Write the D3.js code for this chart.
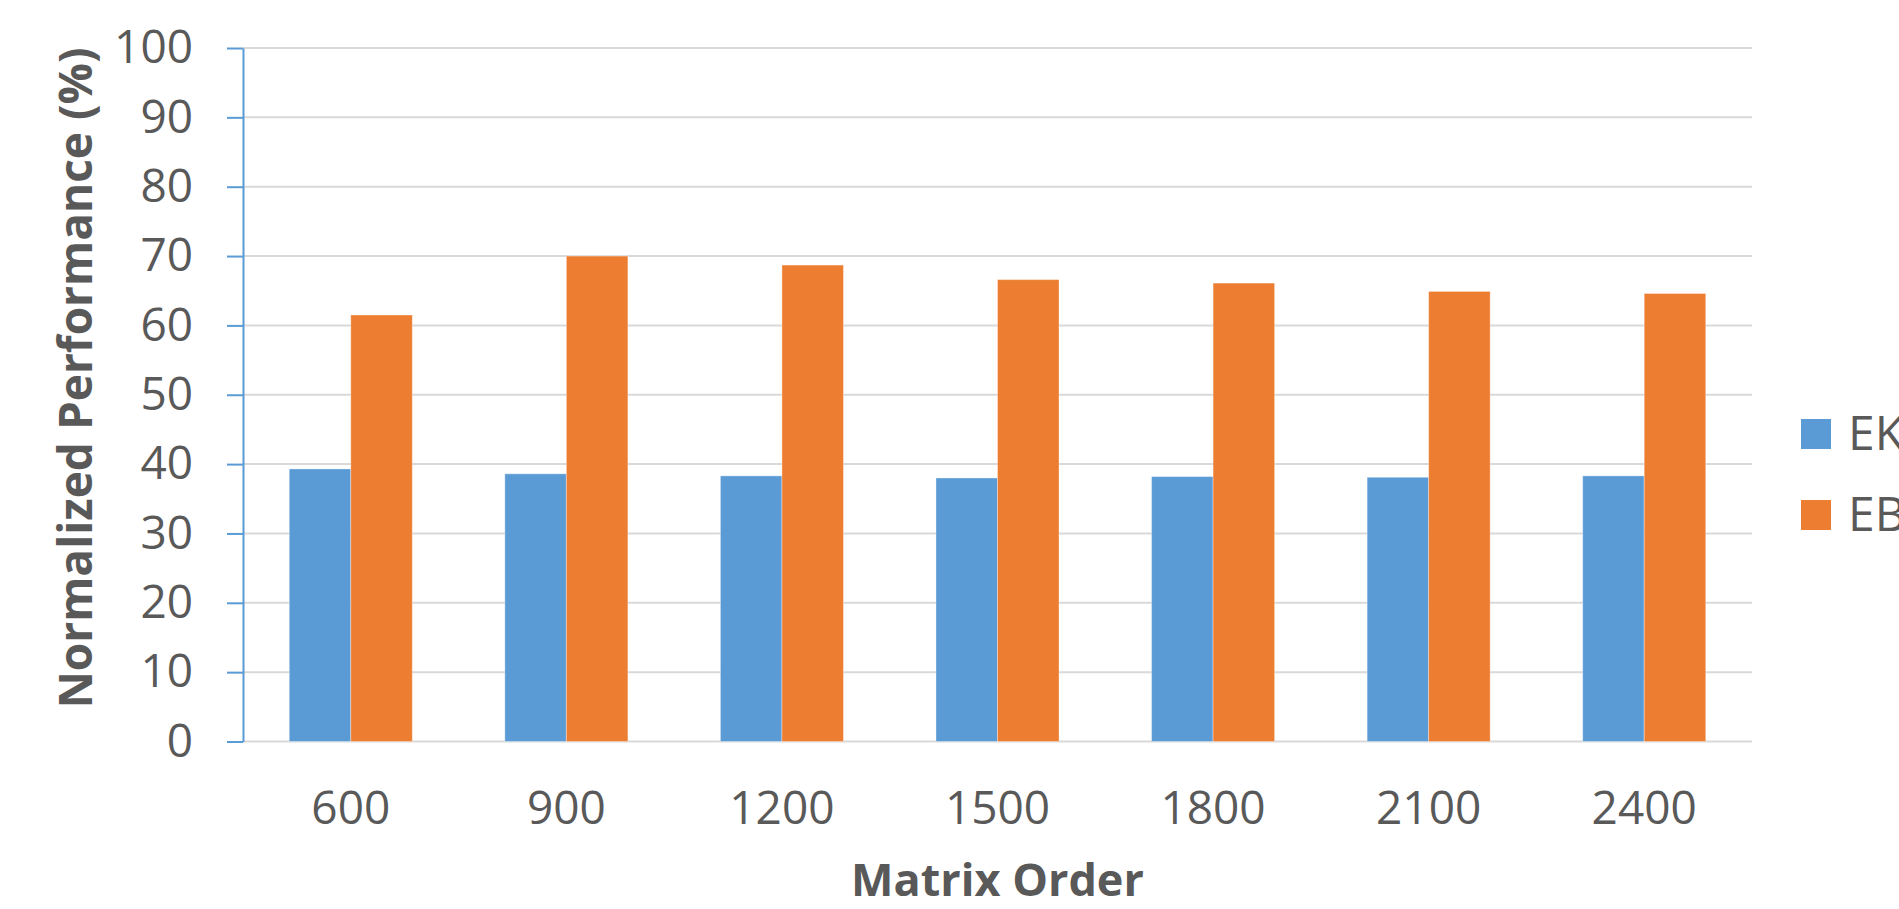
<!DOCTYPE html>
<html>
<head>
<meta charset="utf-8">
<script src="https://cdn.jsdelivr.net/npm/d3@7"></script>
<style>
  html, body { margin: 0; padding: 0; background: #fff; }
  svg { display: block; }
  text { font-family: "Open Sans", "Segoe UI", sans-serif; fill: #595959; }
</style>
</head>
<body>
<svg id="chart" width="1899" height="909"></svg>
<script>
const categories = ["600", "900", "1200", "1500", "1800", "2100", "2400"];
const seriesNames = ["EK", "EB"];
const ekValues = [39.3, 38.6, 38.3, 38.0, 38.2, 38.1, 38.3];
const ebValues = [61.5, 70.0, 68.7, 66.6, 66.1, 64.9, 64.6];
const yTicks = [0, 10, 20, 30, 40, 50, 60, 70, 80, 90, 100];
const colors = ["#5B9BD5", "#ED7D31"];
const xTitle = "Matrix Order";
const yTitle = "Normalized Performance (%)";

const data = categories.map((c, i) => ({ cat: c, EK: ekValues[i], EB: ebValues[i] }));

const svg = d3.select("#chart");
const mLeft = 243, mRight = 1752, mTop = 48, mBottom = 741.5;

const x0 = d3.scaleBand().domain(categories).range([mLeft, mRight]).paddingInner(0).paddingOuter(0);
const x1 = d3.scaleBand().domain(seriesNames).range([0, x0.bandwidth()]).paddingInner(0).paddingOuter(0.752);
const y = d3.scaleLinear().domain([0, 100]).range([mBottom, mTop]);
const color = d3.scaleOrdinal().domain(seriesNames).range(colors);

// gridlines
svg.append("g").selectAll("line").data(yTicks).join("line")
  .attr("x1", mLeft).attr("x2", mRight)
  .attr("y1", d => y(d)).attr("y2", d => y(d))
  .attr("stroke", "#D9D9D9").attr("stroke-width", 2);

// bars
svg.append("g").selectAll("g").data(data).join("g")
  .attr("transform", d => `translate(${x0(d.cat)},0)`)
  .selectAll("rect").data(d => seriesNames.map(k => ({ key: k, value: d[k] }))).join("rect")
  .attr("x", d => x1(d.key))
  .attr("width", x1.bandwidth())
  .attr("y", d => y(d.value))
  .attr("height", d => y(0) - y(d.value))
  .attr("fill", d => color(d.key))
  .attr("stroke", "#ffffff").attr("stroke-opacity", 0.35).attr("stroke-width", 1);

// y axis
const yAxis = d3.axisLeft(y).tickValues(yTicks).tickSizeInner(16).tickSizeOuter(0).tickPadding(34);
const gy = svg.append("g").attr("transform", `translate(${mLeft},0)`).call(yAxis);
gy.select(".domain").attr("stroke", "#5B9BD5").attr("stroke-width", 2);
gy.selectAll(".tick line").attr("stroke", "#5B9BD5").attr("stroke-width", 2);
gy.selectAll(".tick text").style("font-family", "'Open Sans', sans-serif")
  .style("font-size", "46px").attr("fill", "#595959");

// x axis
const xAxis = d3.axisBottom(x0).tickSize(0).tickPadding(50);
const gx = svg.append("g").attr("transform", `translate(0,${mBottom})`).call(xAxis);
gx.select(".domain").remove();
gx.selectAll(".tick text").style("font-family", "'Open Sans', sans-serif")
  .style("font-size", "46px").attr("fill", "#595959");

// axis titles
svg.append("text")
  .attr("x", (mLeft + mRight) / 2).attr("y", 896)
  .attr("text-anchor", "middle")
  .style("font-size", "45px").style("font-weight", "bold")
  .text(xTitle);

svg.append("text")
  .attr("transform", `translate(92,${(48 + 708) / 2}) rotate(-90)`)
  .attr("text-anchor", "middle")
  .style("font-size", "46px").style("font-weight", "bold")
  .text(yTitle);

// legend
const legend = svg.append("g").selectAll("g").data(seriesNames).join("g")
  .attr("transform", (d, i) => `translate(1801,${419 + i * 81})`);
legend.append("rect").attr("width", 30).attr("height", 30).attr("fill", d => color(d));
legend.append("text").attr("x", 47).attr("y", 31)
  .style("font-size", "48px").text(d => d);
</script>
</body>
</html>
